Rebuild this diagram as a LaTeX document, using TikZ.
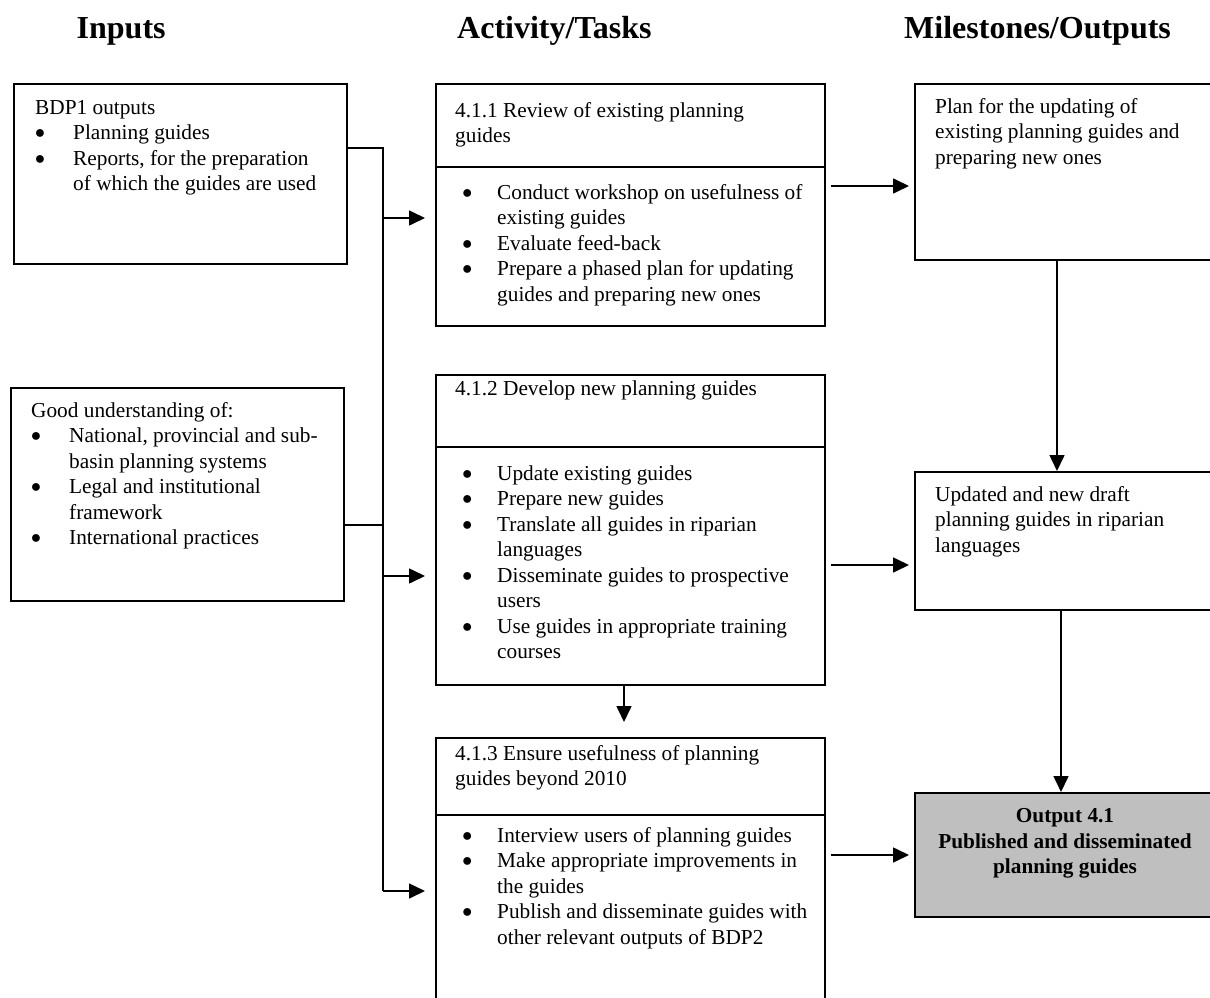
\documentclass[tikz,border=0pt]{standalone}
\usepackage{fontspec}
\setmainfont{Liberation Serif}
\usetikzlibrary{arrows.meta,calc}

% list bullet: a black circle set at a reduced size, lifted to mid x-height
\newcommand\bigbul{\raisebox{1.2pt}{\fontsize{18}{18}\selectfont ●}}
% bullet of given offset inside a slot of given width; continuation lines use the same width
\newcommand\bl[2]{\makebox[#2][l]{\hspace*{#1}\bigbul}}
\newcommand\inA{\bl{-0.5pt}{38pt}}
\newcommand\ctA{\hspace*{38pt}}
\newcommand\inB{\bl{6.6pt}{42pt}}
\newcommand\ctB{\hspace*{42pt}}

\tikzset{
  box/.style={draw, line width=1.6pt, inner sep=0pt, anchor=north west},
  outbox/.style={box, fill=black!25},
  txt/.style={inner sep=0pt, anchor=north west, font=\fontsize{21.3}{25.5}\selectfont},
  hdr/.style={inner sep=0pt, anchor=base west, font=\fontsize{32}{36}\selectfont\bfseries},
  conn/.style={line width=1.6pt},
  arr/.style={conn, -{Triangle[length=16pt,width=15pt]}},
}

\begin{document}
\begin{tikzpicture}[x=1pt, y=-1pt]
\useasboundingbox (0,0) rectangle (1210,998);
\clip (0,0) rectangle (1210,998);
\fill[white] (0,0) rectangle (1210,998);

% column headings
\node[hdr] (hin)  at (76.5,38.5) {Inputs};
\node[hdr] (hact) at (457,38.5)  {Activity/Tasks};
\node[hdr] (hout) at (904,38.5)  {Milestones/Outputs};

% inputs
\node[box, minimum width=333pt, minimum height=180pt] (in1) at (13,83) {};
\node[txt] (in1t) at (35,96.3) {\begin{tabular}{@{}l@{}}
BDP1 outputs\\
\inA Planning guides\\
\inA Reports, for the preparation\\
\ctA of which the guides are used
\end{tabular}};

\node[box, minimum width=333pt, minimum height=213pt] (in2) at (10,387) {};
\node[txt] (in2t) at (31,399.2) {\begin{tabular}{@{}l@{}}
Good understanding of:\\
\inA National, provincial and sub-\\
\ctA basin planning systems\\
\inA Legal and institutional\\
\ctA framework\\
\inA International practices
\end{tabular}};

% activities
\node[box, minimum width=389pt, minimum height=83pt] (t1h) at (435,83) {};
\node[box, minimum width=389pt, minimum height=159pt] (t1b) at (435,166) {};
\node[txt] (t1ht) at (455,99.2) {\begin{tabular}{@{}l@{}}
4.1.1 Review of existing planning\\
guides
\end{tabular}};
\node[txt] (t1bt) at (455,181.2) {\begin{tabular}{@{}l@{}}
\inB Conduct workshop on usefulness of\\
\ctB existing guides\\
\inB Evaluate feed-back\\
\inB Prepare a phased plan for updating\\
\ctB guides and preparing new ones
\end{tabular}};

\node[box, minimum width=389pt, minimum height=72pt] (t2h) at (435,374) {};
\node[box, minimum width=389pt, minimum height=238pt] (t2b) at (435,446) {};
\node[txt] (t2ht) at (455,377.2) {\begin{tabular}{@{}l@{}}
4.1.2 Develop new planning guides
\end{tabular}};
\node[txt] (t2bt) at (455,462.2) {\begin{tabular}{@{}l@{}}
\inB Update existing guides\\
\inB Prepare new guides\\
\inB Translate all guides in riparian\\
\ctB languages\\
\inB Disseminate guides to prospective\\
\ctB users\\
\inB Use guides in appropriate training\\
\ctB courses
\end{tabular}};

\node[box, minimum width=389pt, minimum height=77pt] (t3h) at (435,737) {};
\node[box, minimum width=389pt, minimum height=190pt] (t3b) at (435,814) {};
\node[txt] (t3ht) at (455,742.2) {\begin{tabular}{@{}l@{}}
4.1.3 Ensure usefulness of planning\\
guides beyond 2010
\end{tabular}};
\node[txt] (t3bt) at (455,824.2) {\begin{tabular}{@{}l@{}}
\inB Interview users of planning guides\\
\inB Make appropriate improvements in\\
\ctB the guides\\
\inB Publish and disseminate guides with\\
\ctB other relevant outputs of BDP2
\end{tabular}};

% milestones / outputs
\node[box, minimum width=302pt, minimum height=176pt] (pl) at (914,83) {};
\node[txt] (plt) at (935,95.2) {\begin{tabular}{@{}l@{}}
Plan for the updating of\\
existing planning guides and\\
preparing new ones
\end{tabular}};

\node[box, minimum width=302pt, minimum height=138pt] (up) at (914,471) {};
\node[txt] (upt) at (935,483.2) {\begin{tabular}{@{}l@{}}
Updated and new draft\\
planning guides in riparian\\
languages
\end{tabular}};

\node[outbox, minimum width=302pt, minimum height=124pt] (out) at (914,792) {};
\node[txt, anchor=north, font=\fontsize{21.3}{25.5}\selectfont\bfseries] (outt) at (1065,804.9) {\begin{tabular}{@{}c@{}}
Output 4.1\\
Published and disseminated\\
planning guides
\end{tabular}};

% input bus
\coordinate (bustop) at (383,148);
\coordinate (busj)   at (383,525);
\coordinate (busbot) at (383,891);
\coordinate (a1) at (383,218);
\coordinate (a2) at (383,576);
\draw[conn] (in1.east |- bustop) -- (bustop) -- (busbot);
\draw[conn] (in2.east |- busj) -- (busj);
\draw[arr, shorten >=10pt] (a1) -- (a1 -| t1b.west);
\draw[arr, shorten >=10pt] (a2) -- (a2 -| t2b.west);
\draw[arr, shorten >=10pt] (busbot) -- (busbot -| t3b.west);

% activities to outputs
\coordinate (r1) at (0,186);
\coordinate (r2) at (0,565);
\coordinate (r3) at (0,855);
\draw[arr, shorten <=5pt, shorten >=5pt] (r1 -| t1b.east) -- (r1 -| pl.west);
\draw[arr, shorten <=5pt, shorten >=5pt] (r2 -| t2b.east) -- (r2 -| up.west);
\draw[arr, shorten <=5pt, shorten >=5pt] (r3 -| t3b.east) -- (r3 -| out.west);

% vertical links
\coordinate (v1) at (1057,0);
\coordinate (v2) at (1061,0);
\coordinate (v3) at (624,0);
\draw[arr] (pl.south -| v1) -- (up.north -| v1);
\draw[arr] (up.south -| v2) -- (out.north -| v2);
\draw[arr, shorten >=15pt] (t2b.south -| v3) -- (t3h.north -| v3);
\end{tikzpicture}
\end{document}
